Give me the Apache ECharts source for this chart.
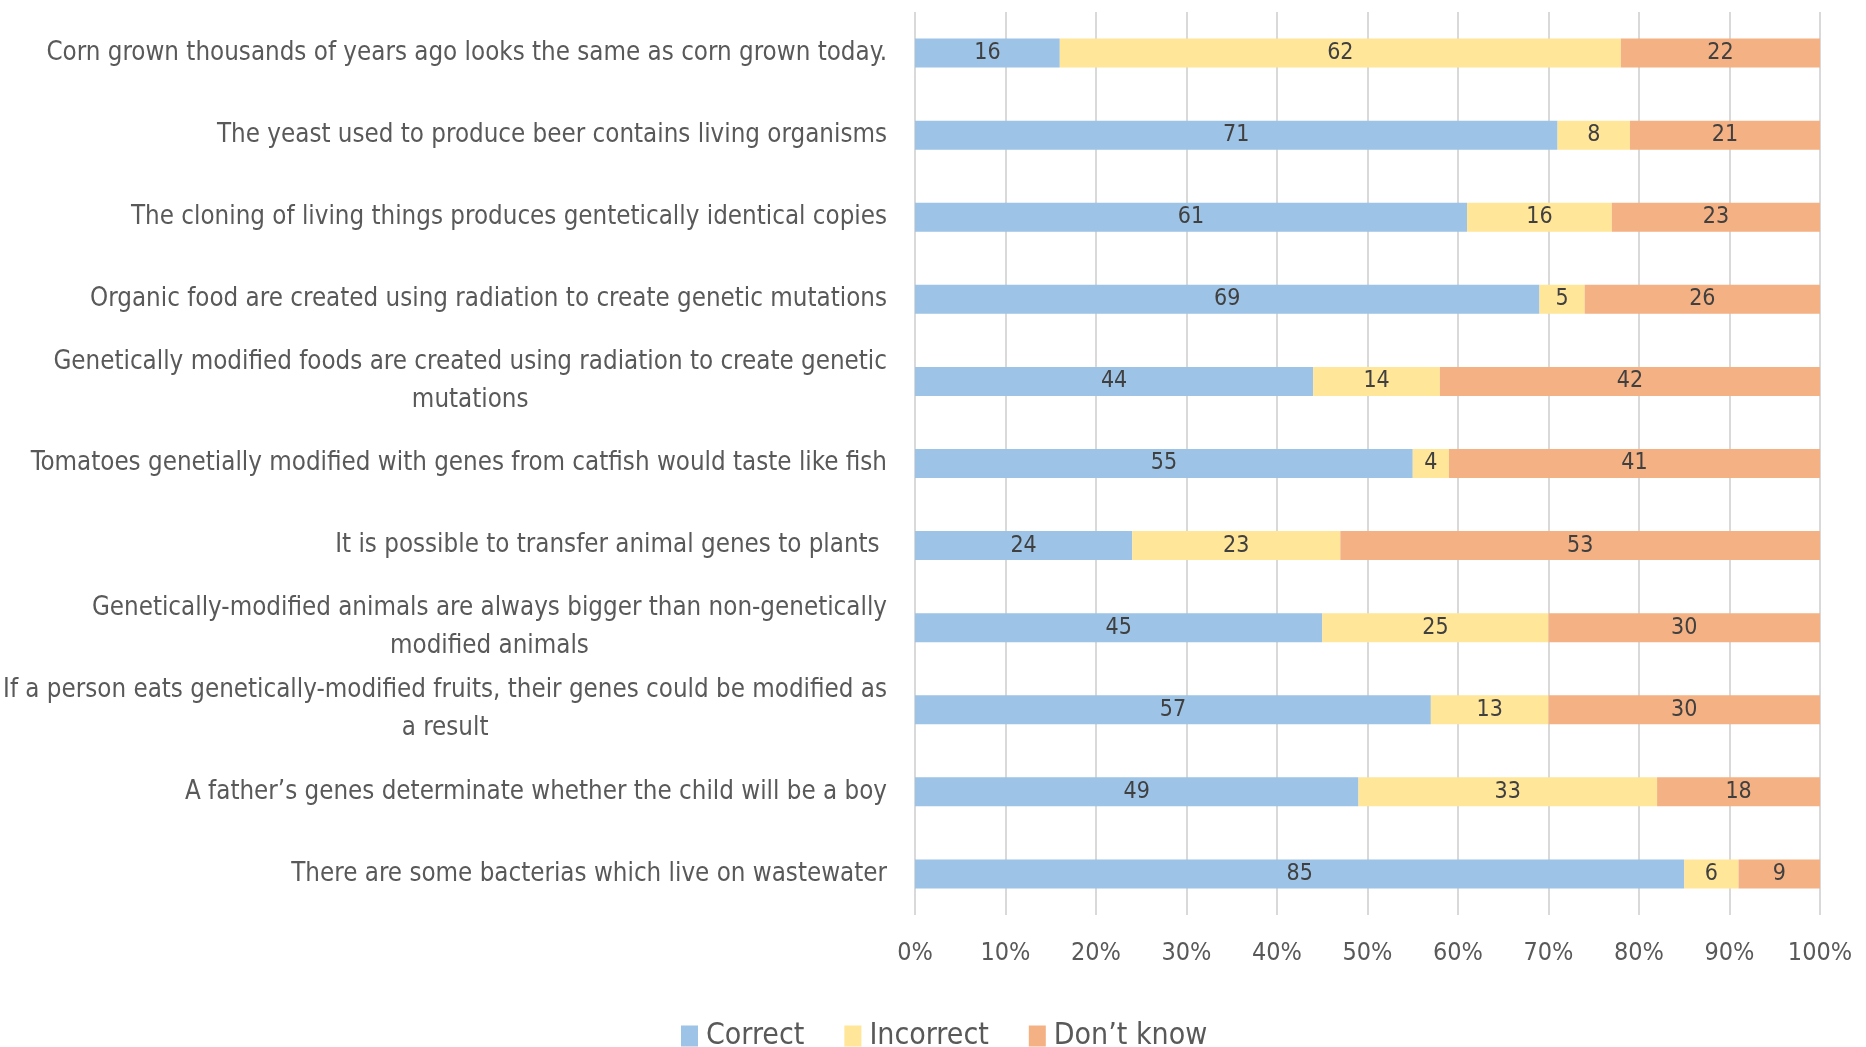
<!DOCTYPE html>
<html><head><meta charset="utf-8">
<script src="https://cdn.jsdelivr.net/npm/echarts@6/dist/echarts.min.js"></script>
<style>html,body{margin:0;padding:0;background:#fff}#c{width:1866px;height:1047px}</style>
</head><body><div id="c"></div>
<script>
const categories = [
  "Corn grown thousands of years ago looks the same as corn grown today.",
  "The yeast used to produce beer contains living organisms",
  "The cloning of living things produces gentetically identical copies",
  "Organic food are created using radiation to create genetic mutations",
  "Genetically modified foods are created using radiation to create genetic\nmutations",
  "Tomatoes genetially modified with genes from catfish would taste like fish",
  "It is possible to transfer animal genes to plants ",
  "Genetically-modified animals are always bigger than non-genetically\nmodified animals",
  "If a person eats genetically-modified fruits, their genes could be modified as\na result",
  "A father\u2019s genes determinate whether the child will be a boy",
  "There are some bacterias which live on wastewater"
];
const correct   = [16, 71, 61, 69, 44, 55, 24, 45, 57, 49, 85];
const incorrect = [62,  8, 16,  5, 14,  4, 23, 25, 13, 33,  6];
const dontKnow  = [22, 21, 23, 26, 42, 41, 53, 30, 30, 18,  9];
const seriesNames = ["Correct", "Incorrect", "Don\u2019t know"];
const colors = ["#9DC3E6", "#FFE699", "#F4B183"];

const FONT = "'Liberation Sans Narrow', 'DejaVu Sans Condensed', 'Open Sans', sans-serif";
const chart = echarts.init(document.getElementById('c'));
const mk = (name, data, color) => ({
  name, type: 'bar', stack: 'all', data, barWidth: 29,
  itemStyle: { color },
  label: { show: true, position: 'inside', color: '#404040', fontSize: 23, fontFamily: FONT }
});
chart.setOption({
  animation: false,
  textStyle: { fontFamily: FONT },
  grid: { left: 915, right: 46, top: 12, bottom: 132, containLabel: false, outerBoundsMode: 'none' },
  legend: {
    top: 1016, left: 676, itemWidth: 17, itemHeight: 21, itemGap: 40,
    icon: 'rect',
    textStyle: { fontSize: 30, color: '#595959', fontFamily: FONT, padding: [0, 0, 0, 3] }
  },
  xAxis: {
    type: 'value', min: 0, max: 100, interval: 10,
    axisLine: { show: false }, axisTick: { show: false },
    splitLine: { lineStyle: { color: '#D9D9D9', width: 2 } },
    axisLabel: { formatter: '{value}%', fontSize: 25, color: '#595959', margin: 26, fontFamily: FONT }
  },
  yAxis: {
    type: 'category', inverse: true, data: categories,
    axisLine: { show: false }, axisTick: { show: false },
    axisLabel: {
      margin: 28, fontSize: 25.7, color: '#595959', fontFamily: FONT, align: 'right',
      formatter: v => v.split('\n').map(s => '{c|' + s + '}').join('\n'),
      rich: { c: { align: 'center', fontSize: 25.7, color: '#595959', fontFamily: FONT, lineHeight: 38 } }
    }
  },
  series: [
    mk(seriesNames[0], correct, colors[0]),
    mk(seriesNames[1], incorrect, colors[1]),
    mk(seriesNames[2], dontKnow, colors[2])
  ]
});
</script></body></html>
